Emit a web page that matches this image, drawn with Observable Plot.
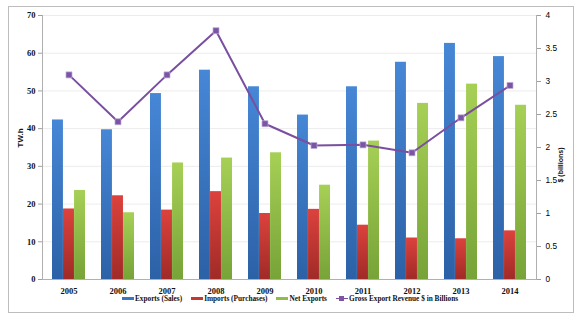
<!DOCTYPE html>
<html><head><meta charset="utf-8">
<script src="https://cdn.jsdelivr.net/npm/d3@7"></script>
<script src="https://cdn.jsdelivr.net/npm/@observablehq/plot@0.6"></script>
<style>
body{margin:0;background:#fff;}
#frame{position:absolute;left:8px;top:6px;width:566px;height:307px;border:1px solid #bdbdbd;box-sizing:border-box;}
#chart{position:absolute;left:0;top:0;}
#legend{position:absolute;top:294px;left:0;width:580px;display:flex;justify-content:center;align-items:center;
  font:bold 7.3px "Liberation Serif",serif;color:#111;}
.item{display:flex;align-items:center;margin:0 4.5px;}
.sw{width:12px;height:3px;margin-right:1px;position:relative;}
.mk{position:absolute;left:3.5px;top:-2px;width:5px;height:5px;background:#7d55a6;}
#chart svg [aria-label="y-axis tick"] path{stroke:#a0a0a0;}
</style>
</head><body>
<div id="frame"></div>
<div id="chart"></div>
<div id="legend"></div>
<script>
const years = ["2005","2006","2007","2008","2009","2010","2011","2012","2013","2014"];
const exportsSales = [42.3, 39.7, 49.3, 55.5, 51.1, 43.6, 51.1, 57.6, 62.6, 59.1];
const importsPurch = [18.7, 22.2, 18.4, 23.3, 17.5, 18.6, 14.4, 11.0, 10.8, 12.9];
const netExports   = [23.6, 17.7, 30.9, 32.2, 33.6, 25.0, 36.7, 46.7, 51.8, 46.2];
const revenue      = [3.10, 2.39, 3.10, 3.77, 2.36, 2.03, 2.04, 1.92, 2.45, 2.94];
const leftTicks  = [0, 10, 20, 30, 40, 50, 60, 70];
const rightTicks = [0, 0.5, 1, 1.5, 2, 2.5, 3, 3.5, 4];
const seriesNames = ["Exports (Sales)", "Imports (Purchases)", "Net Exports", "Gross Export Revenue $ in Billions"];

const yMax = 70, rMax = 4, k = yMax / rMax;
const rows = years.map((y, i) => ({year: y, exp: exportsSales[i], imp: importsPurch[i], net: netExports[i], rev: revenue[i]}));

const W = 580, H = 300, mL = 42, mR = 44, mT = 15, mB = 21;
const padIn = 0.33, padOut = 0.165;
const step = (W - mL - mR) / (years.length - padIn + 2 * padOut);
const third = step * (1 - padIn) / 3;

const plot = Plot.plot({
  width: W, height: H, marginLeft: mL, marginRight: mR, marginTop: mT, marginBottom: mB,
  style: {background: "transparent"},
  x: {domain: years, paddingInner: padIn, paddingOuter: padOut, label: null},
  y: {domain: [0, yMax], label: null},
  marks: [
    Plot.gridY(leftTicks.slice(1), {stroke: "#ececec", strokeOpacity: 1}),
    Plot.barY(rows, {x: "year", y: "exp", fill: "url(#gBlue)", insetLeft: 0, insetRight: 2 * third}),
    Plot.barY(rows, {x: "year", y: "imp", fill: "url(#gRed)", insetLeft: third, insetRight: third}),
    Plot.barY(rows, {x: "year", y: "net", fill: "url(#gGreen)", insetLeft: 2 * third, insetRight: 0}),
    Plot.ruleY([0], {stroke: "#b0b0b0"}),
    Plot.frame({anchor: "left", stroke: "#b0b0b0"}),
    Plot.frame({anchor: "right", stroke: "#b0b0b0"}),
    Plot.line(rows, {x: "year", y: d => d.rev * k, stroke: "#7a4f9f", strokeWidth: 2}),
    Plot.dot(rows, {x: "year", y: d => d.rev * k, symbol: "square", r: 3.4, fill: "#7b54a4", stroke: "#c0b0d8", strokeWidth: 0.7}),
    Plot.axisY(leftTicks, {anchor: "left", tickSize: 4, tickPadding: 3, label: null,
      fontFamily: "Liberation Serif", fontWeight: "bold", fontSize: 8.5, color: "#111"}),
    Plot.axisY(rightTicks.map(v => v * k), {anchor: "right", tickSize: 4, tickPadding: 5, label: null,
      tickFormat: v => String(+(v / k).toFixed(2)),
      fontFamily: "Liberation Sans", fontSize: 8.3, color: "#000"}),
    Plot.axisX({tickSize: 0, tickPadding: 8, label: null,
      fontFamily: "Liberation Serif", fontWeight: "bold", fontSize: 8.5, color: "#111"}),
    Plot.text(["TW.h"], {frameAnchor: "left", dx: -22, rotate: -90, text: d => d,
      fontFamily: "Liberation Sans", fontWeight: "bold", fontSize: 8, fill: "#111"}),
    Plot.text(["$ (billions)"], {frameAnchor: "right", dx: 24, rotate: -90, text: d => d,
      fontFamily: "Liberation Sans", fontWeight: "bold", fontSize: 7, fill: "#111"})
  ]
});

const ns = "http://www.w3.org/2000/svg";
const defs = document.createElementNS(ns, "defs");
const grads = {gBlue: ["#4687d6", "#2c61a6"], gRed: ["#dc423d", "#a02b27"], gGreen: ["#a6d055", "#77a338"]};
for (const [id, [c1, c2]] of Object.entries(grads)) {
  const g = document.createElementNS(ns, "linearGradient");
  g.setAttribute("id", id); g.setAttribute("x1", "0"); g.setAttribute("y1", "0"); g.setAttribute("x2", "0"); g.setAttribute("y2", "1");
  for (const [off, c] of [["0", c1], ["1", c2]]) {
    const s = document.createElementNS(ns, "stop");
    s.setAttribute("offset", off); s.setAttribute("stop-color", c);
    g.appendChild(s);
  }
  defs.appendChild(g);
}
plot.insertBefore(defs, plot.firstChild);
document.getElementById("chart").appendChild(plot);

const legendColors = ["#3a74c2", "#c9352f", "#8fbd46", "#7a4f9f"];
const legend = document.getElementById("legend");
seriesNames.forEach((name, i) => {
  const item = document.createElement("div"); item.className = "item";
  const sw = document.createElement("div"); sw.className = "sw"; sw.style.background = legendColors[i];
  if (i === 3) { sw.style.height = "1.5px"; const mk = document.createElement("div"); mk.className = "mk"; mk.style.top = "-1.8px"; sw.appendChild(mk); }
  const t = document.createElement("span"); t.textContent = name;
  item.appendChild(sw); item.appendChild(t); legend.appendChild(item);
});
</script>
</body></html>
